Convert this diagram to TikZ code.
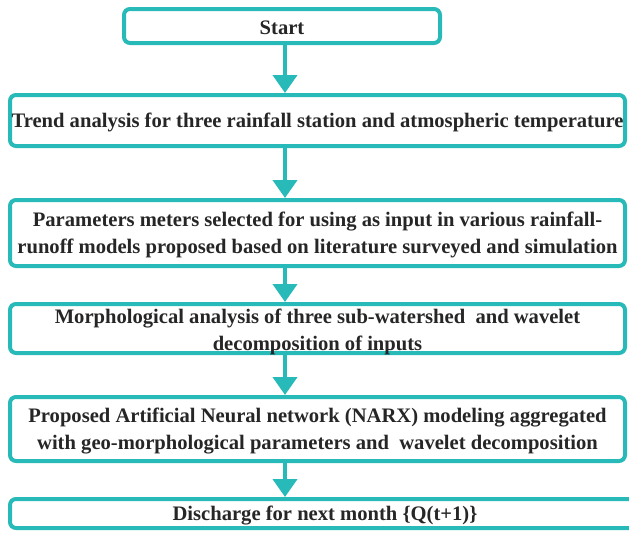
\documentclass[tikz,border=0pt]{standalone}
\usepackage{fontspec}
\setmainfont{Liberation Serif}
\usetikzlibrary{arrows.meta}
\definecolor{tealc}{RGB}{40,186,184}
\begin{document}
\begin{tikzpicture}[x=1pt,y=-1pt,
  box/.style={draw=tealc, line width=4pt, rounded corners=6pt, fill=white, inner sep=0pt},
  txt/.style={font=\fontsize{20.6}{27}\selectfont\bfseries, align=center, text=black!85, yshift=-2pt},
  arr/.style={draw=tealc, line width=4pt, -{Triangle[width=24pt,length=18pt]}}]
\useasboundingbox (0,0) rectangle (629,533);
\coordinate (ax) at (285,0);
\node[box, minimum width=316pt, minimum height=34pt] (n1) at (282,26) {};
\node[txt] at (n1.center) {Start};
\node[box, minimum width=615pt, minimum height=51pt] (n2) at (317.5,120.5) {};
\node[txt] at (n2.center) {Trend analysis for three rainfall station and atmospheric temperature};
\node[box, minimum width=615pt, minimum height=66pt] (n3) at (317.5,233) {};
\node[txt] at (n3.center) {Parameters meters selected for using as input in various rainfall-\\runoff models proposed based on literature surveyed and simulation};
\node[box, minimum width=615pt, minimum height=49pt] (n4) at (317.5,328.5) {};
\node[txt, yshift=-1.5pt] at (n4.center) {Morphological analysis of three sub-watershed\ \ and wavelet\\decomposition of inputs};
\node[box, minimum width=615pt, minimum height=64pt] (n5) at (317.5,429) {};
\node[txt] at (n5.center) {Proposed Artificial Neural network (NARX) modeling aggregated\\with geo-morphological parameters and\ \ wavelet decomposition};
\node[box, minimum width=630pt, minimum height=29pt] (n6) at (325,513.5) {};
\node[txt] at (n6.center) {Discharge for next month \{Q(t+1)\}};
\draw[arr] (n1.south -| ax) -- (n2.north -| ax);
\draw[arr] (n2.south -| ax) -- (n3.north -| ax);
\draw[arr] (n3.south -| ax) -- (n4.north -| ax);
\draw[arr] (n4.south -| ax) -- (n5.north -| ax);
\draw[arr] (n5.south -| ax) -- (n6.north -| ax);
\end{tikzpicture}
\end{document}
